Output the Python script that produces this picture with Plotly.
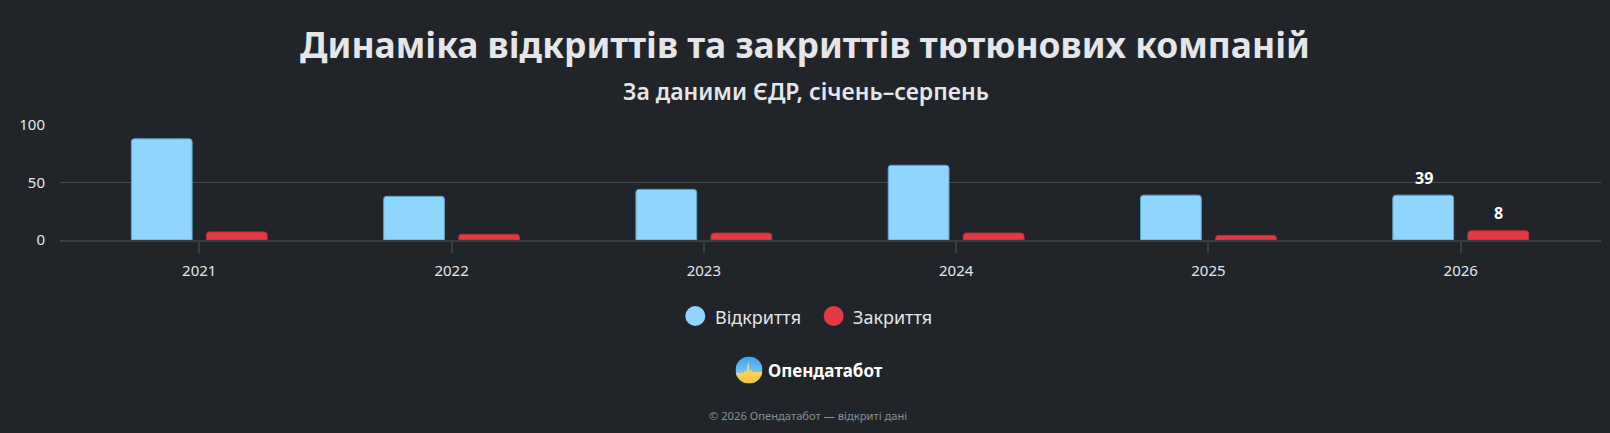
import base64
import plotly.graph_objects as go

# ---- data ----
years = ["2021", "2022", "2023", "2024", "2025", "2026"]
openings = [88, 38, 44, 65, 39, 39]
closures = [7, 5, 6, 6, 4, 8]
series_names = ["Відкриття", "Закриття"]
y_ticks = [0, 50, 100]
title_text = "Динаміка відкриттів та закриттів тютюнових компаній"
subtitle_text = "За даними ЄДР, січень–серпень"
brand_text = "Опендатабот"
footer_text = "© 2026 Опендатабот — відкриті дані"

# ---- style ----
W, H = 1610, 433
L, R, T, B = 60, 9, 125, 193
PW, PH = W - L - R, H - T - B
BG = "#212529"
BLUE = "#8ED6FF"
RED = "#E63946"
TXT = "#E4E6EA"
FONT = "Noto Sans"


def px_x(px):
    return (px - L) / PW


def px_y(py):
    return (H - B - py) / PH


fig = go.Figure()
fig.add_trace(go.Bar(
    x=years, y=openings, name=series_names[0],
    marker=dict(color=BLUE, line=dict(color="#5f9fc4", width=1), cornerradius=3),
    showlegend=False, hoverinfo="x+y+name",
))
fig.add_trace(go.Bar(
    x=years, y=closures, name=series_names[1],
    marker=dict(color=RED, line=dict(color="#b92f3a", width=1), cornerradius=3),
    showlegend=False, hoverinfo="x+y+name",
))

annotations = []
# value labels for the last year
last = len(years) - 1
annotations.append(dict(x=last, y=openings[last], xref="x", yref="y", text=f"<b>{openings[last]}</b>",
                        showarrow=False, xshift=-37, yshift=17, yanchor="middle",
                        font=dict(family=FONT, size=16, color="#FFFFFF")))
annotations.append(dict(x=last, y=closures[last], xref="x", yref="y", text=f"<b>{closures[last]}</b>",
                        showarrow=False, xshift=38, yshift=18, yanchor="middle",
                        font=dict(family=FONT, size=16, color="#FFFFFF")))

# subtitle
annotations.append(dict(x=px_x(806), y=px_y(91), xref="paper", yref="paper", text=subtitle_text,
                        showarrow=False, xanchor="center", yanchor="middle",
                        font=dict(family=FONT, size=23, color=TXT, weight=600)))

# manual legend
shapes = []
leg_items = [(695.3, 712.5, series_names[0], BLUE), (833.7, 850.5, series_names[1], RED)]
for cx, tx, name, col in leg_items:
    shapes.append(dict(type="circle", xref="paper", yref="paper", xsizemode="pixel", ysizemode="pixel",
                       xanchor=px_x(cx), yanchor=px_y(316), x0=-10, x1=10, y0=-10, y1=10,
                       fillcolor=col, line=dict(width=0)))
    annotations.append(dict(x=px_x(tx), y=px_y(317), xref="paper", yref="paper", text=name,
                            showarrow=False, xanchor="left", yanchor="middle",
                            font=dict(family=FONT, size=18, color=TXT)))

# brand
annotations.append(dict(x=px_x(766), y=px_y(370), xref="paper", yref="paper", text=f"<b>{brand_text}</b>",
                        showarrow=False, xanchor="left", yanchor="middle",
                        font=dict(family=FONT, size=17, color="#FFFFFF")))
# footer
annotations.append(dict(x=px_x(808), y=px_y(415), xref="paper", yref="paper", text=footer_text,
                        showarrow=False, xanchor="center", yanchor="middle",
                        font=dict(family=FONT, size=11.2, color="#868E96")))

svg = (
    "<svg xmlns='http://www.w3.org/2000/svg' viewBox='0 0 40 40'>"
    "<defs><linearGradient id='g' x1='0' y1='0' x2='0' y2='1'>"
    "<stop offset='0' stop-color='#3FA4EE'/><stop offset='1' stop-color='#9BD8F6'/></linearGradient>"
    "<linearGradient id='y' x1='0' y1='0' x2='0' y2='1'>"
    "<stop offset='0' stop-color='#FFE680'/><stop offset='1' stop-color='#F2C230'/></linearGradient>"
    "<clipPath id='c'><circle cx='20' cy='20' r='20'/></clipPath></defs>"
    "<circle cx='20' cy='20' r='20' fill='url(#g)'/>"
    "<path clip-path='url(#c)' d='M0,24 L12,24 L14.5,20 L16.5,23 L19,7 L21,25 L23,18 L25,23 L40,23 L40,40 L0,40 Z' fill='url(#y)'/>"
    "</svg>"
)
src = "data:image/svg+xml;base64," + base64.b64encode(svg.encode()).decode()

fig.update_layout(
    width=W, height=H,
    margin=dict(l=L, r=R, t=T, b=B, pad=0),
    paper_bgcolor=BG, plot_bgcolor=BG,
    barmode="group", bargap=0.405, bargroupgap=0.19,
    showlegend=False,
    title=dict(text=f"<b>{title_text}</b>", x=0.5, xref="container", xanchor="center",
               y=1 - 46 / H, yref="container", yanchor="middle",
               font=dict(family=FONT, size=35.4, color=TXT)),
    font=dict(family=FONT, color=TXT),
    xaxis=dict(type="category", range=[-0.552, 5.556], showgrid=False, zeroline=False,
               showline=True, linecolor="#3A3D42", linewidth=2,
               ticks="outside", ticklen=11, tickwidth=1.5, tickcolor="#3A3D42",
               ticklabelstandoff=5,
               tickfont=dict(family=FONT, size=15, color=TXT), fixedrange=True),
    yaxis=dict(range=[0, 100], tickvals=y_ticks, showgrid=True, gridcolor="#46494E", gridwidth=1,
               zeroline=False, showline=False, ticks="", ticklabelstandoff=14,
               tickfont=dict(family=FONT, size=15, color=TXT), fixedrange=True),
    annotations=annotations,
    shapes=shapes,
    images=[dict(source=src, xref="paper", yref="paper", x=px_x(749), y=px_y(370),
                 sizex=27 / PW, sizey=27 / PH, xanchor="center", yanchor="middle",
                 sizing="contain", layer="above")],
)

fig.write_html("out.html", config={"displayModeBar": False},
               post_script="document.body.style.margin='0px';document.body.style.background='#212529';")
